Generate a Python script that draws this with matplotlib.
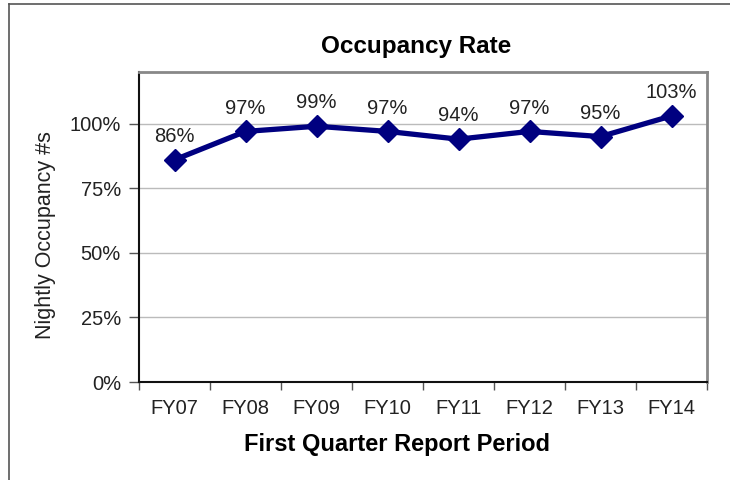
import matplotlib

matplotlib.use("Agg")

import matplotlib.pyplot as plt
import matplotlib.ticker as mticker
from matplotlib.lines import Line2D

periods = ["FY07", "FY08", "FY09", "FY10", "FY11", "FY12", "FY13", "FY14"]
occupancy = [0.86, 0.97, 0.99, 0.97, 0.94, 0.97, 0.95, 1.03]
y_ticks = [0.0, 0.25, 0.50, 0.75, 1.00]

plt.rcParams["font.family"] = ["Liberation Sans", "DejaVu Sans"]
NAVY = "#000080"

fig = plt.figure(figsize=(7.3, 4.8), dpi=100)
ax = fig.add_axes([139 / 730, 1 - 382 / 480, 568 / 730, 310 / 480])

# outer chart border (left + top only visible)
fig.add_artist(Line2D([9 / 730, 9 / 730], [0, 1 - 4 / 480], transform=fig.transFigure,
                      color="#555555", linewidth=1.2))
fig.add_artist(Line2D([9 / 730, 1], [1 - 4 / 480, 1 - 4 / 480], transform=fig.transFigure,
                      color="#555555", linewidth=1.2))

x = list(range(len(periods)))
ax.plot(x, occupancy, color=NAVY, linewidth=3.8, marker="D", markersize=11.5,
        markerfacecolor=NAVY, markeredgecolor=NAVY, zorder=3)
for xi, v in zip(x, occupancy):
    ax.annotate(f"{v * 100:.0f}%", (xi, v), xytext=(0, 10), textcoords="offset points",
                ha="center", va="bottom", fontsize=14.5, color="#222222")

ax.set_xlim(-0.5, len(periods) - 0.5)
ax.set_ylim(0, 1.2)
ax.set_yticks(y_ticks)
ax.yaxis.set_major_formatter(mticker.FuncFormatter(lambda v, _: f"{v * 100:.0f}%"))
ax.set_xticks(x)
ax.set_xticklabels(periods)
ax.set_xticks([i - 0.5 for i in range(len(periods) + 1)], minor=True)
ax.tick_params(axis="x", which="major", length=0, pad=12, labelsize=14.5, labelcolor="#222222")
ax.tick_params(axis="x", which="minor", length=6, width=1, color="#555555")
ax.tick_params(axis="y", length=7, width=1, color="#555555", pad=6, labelsize=14.5, labelcolor="#222222")

ax.grid(axis="y", color="#bbbbbb", linewidth=1)
ax.set_axisbelow(True)

ax.spines["left"].set_color("#111111")
ax.spines["bottom"].set_color("#111111")
ax.spines["left"].set_linewidth(1.5)
ax.spines["bottom"].set_linewidth(1.5)
ax.spines["top"].set_color("#888888")
ax.spines["right"].set_color("#888888")
ax.spines["top"].set_linewidth(2)
ax.spines["right"].set_linewidth(2)

ax.set_title("Occupancy Rate", fontsize=17.5, fontweight="bold", pad=14, x=277 / 568)
ax.set_xlabel("First Quarter Report Period", fontsize=17, fontweight="bold")
ax.xaxis.set_label_coords(258 / 568, -51 / 310)
ax.set_ylabel("Nightly Occupancy #s", fontsize=15.5, color="#222222")
ax.yaxis.set_label_coords(-83 / 568, 0.474)

fig.savefig("out.png", dpi=100)
